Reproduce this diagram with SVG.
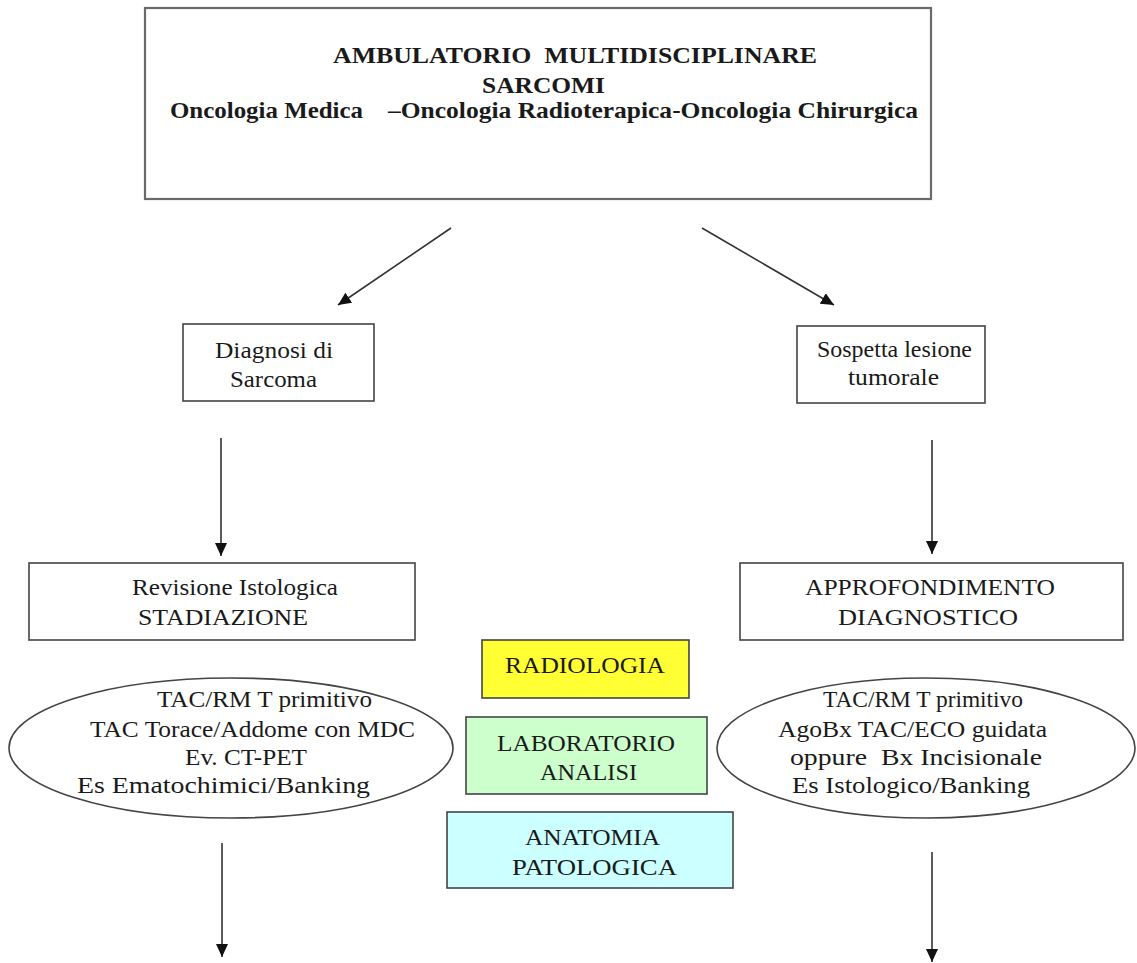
<svg xmlns="http://www.w3.org/2000/svg" width="1137" height="963" viewBox="0 0 1137 963">
<style>
text { font-family: "Liberation Serif", "Times New Roman", serif; font-size: 24px; fill: #1a1a1a; }
.b { font-weight: bold; }
.box { fill: #ffffff; stroke: #444444; stroke-width: 1.6; }
.top { fill: #ffffff; stroke: #6a6a6a; stroke-width: 2.2; }
.conn { stroke: #333333; stroke-width: 1.6; fill: none; marker-end: url(#arr); }
</style>
<defs>
<marker id="arr" markerUnits="userSpaceOnUse" markerWidth="14" markerHeight="14" viewBox="0 0 14 14" refX="13" refY="7" orient="auto">
<path d="M0,1 L13,7 L0,13 Z" fill="#111111"/>
</marker>
</defs>
<rect width="1137" height="963" fill="#ffffff"/>

<g id="ambulatorio">
<rect class="top" x="145" y="8" width="786" height="191"/>
<text class="b" x="333" y="63" textLength="484" lengthAdjust="spacingAndGlyphs" xml:space="preserve">AMBULATORIO  MULTIDISCIPLINARE</text>
<text class="b" x="482" y="93" textLength="123" lengthAdjust="spacingAndGlyphs">SARCOMI</text>
<text class="b" x="170" y="118" textLength="193" lengthAdjust="spacingAndGlyphs">Oncologia Medica</text>
<text class="b" x="388" y="118" textLength="530" lengthAdjust="spacingAndGlyphs">–Oncologia Radioterapica-Oncologia Chirurgica</text>
</g>

<g id="diagnosi">
<rect class="box" x="183" y="324" width="191" height="77"/>
<text x="215" y="358" textLength="118" lengthAdjust="spacingAndGlyphs">Diagnosi di</text>
<text x="230" y="387" textLength="87" lengthAdjust="spacingAndGlyphs">Sarcoma</text>
</g>

<g id="sospetta">
<rect class="box" x="797" y="326" width="188" height="77"/>
<text x="817" y="357" textLength="155" lengthAdjust="spacingAndGlyphs">Sospetta lesione</text>
<text x="848" y="385" textLength="91" lengthAdjust="spacingAndGlyphs">tumorale</text>
</g>

<g id="revisione">
<rect class="box" x="29" y="563" width="386" height="77"/>
<text x="132" y="595" textLength="206" lengthAdjust="spacingAndGlyphs">Revisione Istologica</text>
<text x="138" y="625" textLength="170" lengthAdjust="spacingAndGlyphs">STADIAZIONE</text>
</g>

<g id="approfondimento">
<rect class="box" x="740" y="563" width="383" height="77"/>
<text x="805" y="595" textLength="250" lengthAdjust="spacingAndGlyphs">APPROFONDIMENTO</text>
<text x="838" y="625" textLength="180" lengthAdjust="spacingAndGlyphs">DIAGNOSTICO</text>
</g>

<g id="esami-stadiazione">
<ellipse class="box" cx="231" cy="748" rx="222" ry="70"/>
<text x="157" y="707" textLength="215" lengthAdjust="spacingAndGlyphs">TAC/RM T primitivo</text>
<text x="90" y="737" textLength="325" lengthAdjust="spacingAndGlyphs">TAC Torace/Addome con MDC</text>
<text x="185" y="765" textLength="122" lengthAdjust="spacingAndGlyphs">Ev. CT-PET</text>
<text x="77" y="793" textLength="293" lengthAdjust="spacingAndGlyphs">Es Ematochimici/Banking</text>
</g>

<g id="esami-diagnostici">
<ellipse class="box" cx="926" cy="748" rx="209" ry="70"/>
<text x="823" y="707" textLength="200" lengthAdjust="spacingAndGlyphs">TAC/RM T primitivo</text>
<text x="778" y="737" textLength="269" lengthAdjust="spacingAndGlyphs">AgoBx TAC/ECO guidata</text>
<text x="790" y="765" textLength="252" lengthAdjust="spacingAndGlyphs" xml:space="preserve">oppure  Bx Incisionale</text>
<text x="792" y="793" textLength="238" lengthAdjust="spacingAndGlyphs">Es Istologico/Banking</text>
</g>

<g id="radiologia">
<rect x="482" y="640" width="207" height="58" fill="#ffff33" stroke="#444444" stroke-width="1.6"/>
<text x="505" y="673" textLength="160" lengthAdjust="spacingAndGlyphs">RADIOLOGIA</text>
</g>

<g id="laboratorio">
<rect x="466" y="717" width="241" height="77" fill="#ccffcc" stroke="#444444" stroke-width="1.6"/>
<text x="497" y="751" textLength="178" lengthAdjust="spacingAndGlyphs">LABORATORIO</text>
<text x="540" y="780" textLength="97" lengthAdjust="spacingAndGlyphs">ANALISI</text>
</g>

<g id="anatomia">
<rect x="447" y="812" width="286" height="76" fill="#ccffff" stroke="#444444" stroke-width="1.6"/>
<text x="525" y="845" textLength="135" lengthAdjust="spacingAndGlyphs">ANATOMIA</text>
<text x="512" y="875" textLength="165" lengthAdjust="spacingAndGlyphs">PATOLOGICA</text>
</g>

<g id="connectors">
<line class="conn" x1="451" y1="228" x2="338" y2="305"/>
<line class="conn" x1="702" y1="228" x2="834" y2="305"/>
<line class="conn" x1="221" y1="438" x2="221" y2="556"/>
<line class="conn" x1="932" y1="440" x2="932" y2="554"/>
<line class="conn" x1="222" y1="843" x2="222" y2="957"/>
<line class="conn" x1="932" y1="852" x2="932" y2="962"/>
</g>
</svg>
